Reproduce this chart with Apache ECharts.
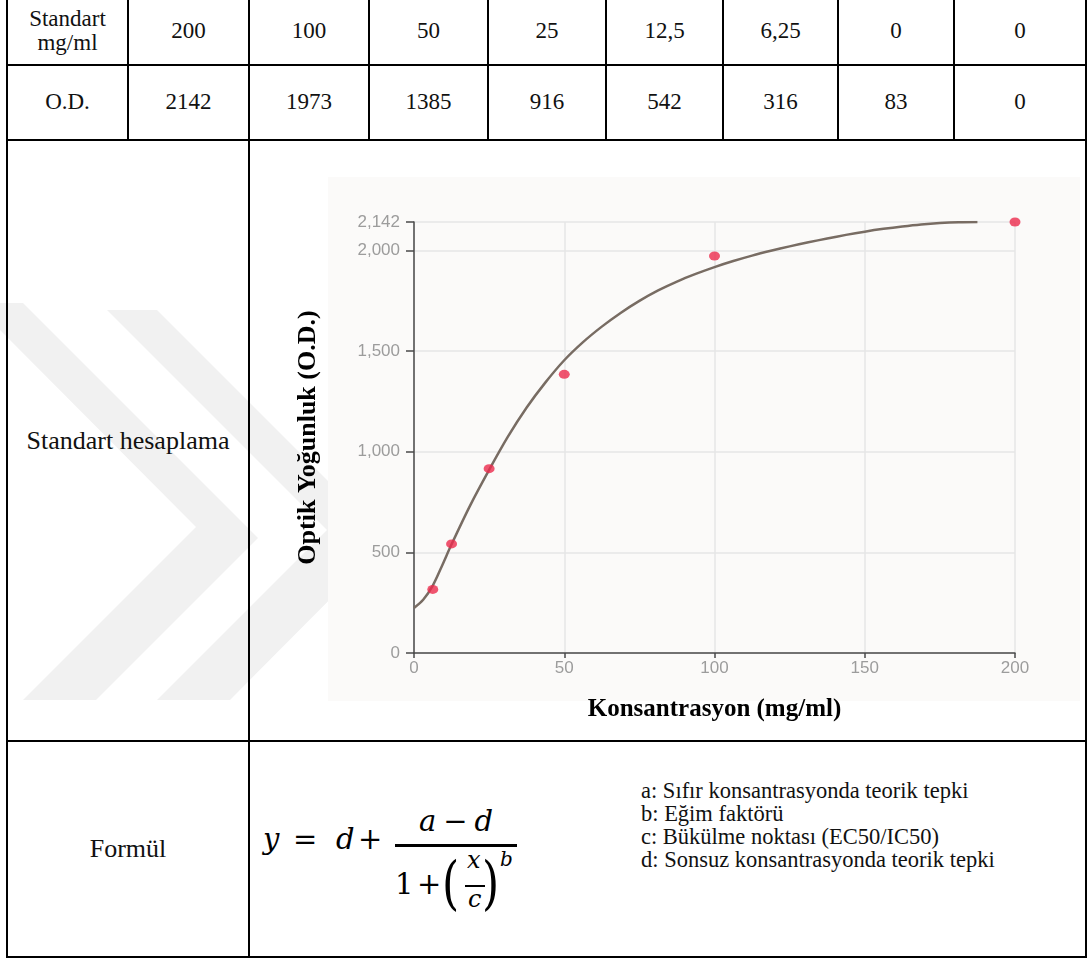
<!DOCTYPE html>
<html><head><meta charset="utf-8">
<script src="https://cdn.jsdelivr.net/npm/echarts@6/dist/echarts.min.js"></script>
<style>
html,body{margin:0;padding:0;background:#fff;width:1089px;height:959px;overflow:hidden;}
#page{position:relative;width:1089px;height:959px;font-family:"Liberation Serif","Times New Roman",serif;color:#111;}
.hl,.vl{position:absolute;background:#000;}
.cell{position:absolute;display:flex;align-items:center;justify-content:center;text-align:center;}
#wm{position:absolute;left:0;top:0;}
#plotbg{position:absolute;left:328px;top:177px;width:752px;height:524px;background:#fbfaf9;}
#chart{position:absolute;left:0;top:0;width:1089px;height:959px;}
.f{position:absolute;font-family:"DejaVu Serif","Liberation Serif",serif;font-style:italic;line-height:1;color:#000;white-space:nowrap;}
.fu{font-style:normal;}
</style></head>
<body><div id="page">
<svg id="wm" width="1089" height="959"><g fill="#f1f1f1">
<polygon points="0,303 23,303 258,538 96,700 23,700 196,527 0,330"/>
<polygon points="107,310 157,310 388,541 230,700 157,700 327,530"/>
</g></svg>
<div id="plotbg"></div>
<div id="chart"></div>
</div>
<script>
// ---- data ----
const concLabels = ['200', '100', '50', '25', '12,5', '6,25', '0', '0'];
const odValues = [2142, 1973, 1385, 916, 542, 316, 83, 0];
const pointConc = [200, 100, 50, 25, 12.5, 6.25];
const pointOD = [2142, 1973, 1385, 916, 542, 316];
// fitted curve, values
const curveConc = [0, 3.125, 6.25, 9.375, 12.5, 18.75, 25, 31.25, 37.5, 43.75, 50, 56.25, 62.5, 68.75, 75, 81.25, 87.5, 93.75, 100, 106.25, 112.5, 118.75, 125, 131.25, 137.5, 143.75, 150, 156.25, 162.5, 168.75, 175, 181.25, 187.5];
const curveOD = [224, 266, 335, 435, 540, 735, 910, 1075, 1220, 1345, 1455, 1545, 1622, 1690, 1750, 1802, 1846, 1884, 1918, 1948, 1975, 1999, 2021, 2041, 2060, 2078, 2094, 2108, 2120, 2130, 2137, 2141, 2142];
const yTicksMax = 2142;
const rowTitles = ['Standart<br>mg/ml', 'O.D.', 'Standart hesaplama', 'Formül'];
const xAxisTitle = 'Konsantrasyon (mg/ml)';
const yAxisTitle = 'Optik Yoğunluk (O.D.)';
const paramNotes = ['a: Sıfır konsantrasyonda teorik tepki', 'b: Eğim faktörü', 'c: Bükülme noktası (EC50/IC50)', 'd: Sonsuz konsantrasyonda teorik tepki'];

// ---- table layout ----
const page = document.getElementById('page');
function add(cls, st, html) {
  const d = document.createElement('div'); d.className = cls;
  Object.assign(d.style, st); if (html !== undefined) d.innerHTML = html;
  page.insertBefore(d, document.getElementById('chart')); return d;
}
const L = 7, R = 1086, lw = 2;
const colX = [7, 128, 249, 369, 488, 606, 723, 838, 954, 1086];
[65, 140, 741, 957].forEach(y => add('hl', {left: L + 'px', top: (y - 1) + 'px', width: (R - L + 1) + 'px', height: lw + 'px'}));
add('vl', {left: (L - 1) + 'px', top: '0px', width: lw + 'px', height: '958px'});
add('vl', {left: (R - 1) + 'px', top: '0px', width: lw + 'px', height: '958px'});
add('vl', {left: '248px', top: '0px', width: lw + 'px', height: '958px'});
colX.slice(1, -1).forEach(x => { if (x !== 249) add('vl', {left: (x - 1) + 'px', top: '0px', width: lw + 'px', height: '141px'}); });
function cell(x0, x1, y0, y1, html, fs, lh) {
  add('cell', {left: x0 + 'px', top: y0 + 'px', width: (x1 - x0) + 'px', height: (y1 - y0) + 'px', fontSize: fs + 'px', lineHeight: (lh || 1.15)}, html);
}
cell(7, 128, 0, 62, rowTitles[0], 23, '24px');
cell(7, 128, 65, 140, rowTitles[1], 23);
concLabels.forEach((t, i) => cell(colX[i + 1], colX[i + 2], 0, 63, t, 23));
odValues.forEach((v, i) => cell(colX[i + 1], colX[i + 2], 65, 140, String(v), 23));
cell(7, 249, 140, 741, rowTitles[2], 26);
cell(7, 249, 741, 957, rowTitles[3], 26);

// formula  y = d + (a - d) / (1 + (x/c)^b)
const FS = 29;
function ftext(txt, left, baseline, fs, upright, extra) {
  const st = Object.assign({left: left + 'px', top: (baseline - 0.846 * fs) + 'px', fontSize: fs + 'px'}, extra || {});
  return add('f' + (upright ? ' fu' : ''), st, txt);
}
ftext('y', 263, 850, FS);
ftext('=', 293, 850, FS, true);
ftext('d', 336, 850, FS);
ftext('+', 358, 850, FS, true);
ftext('a<span style="font-style:normal;margin:0 7px">−</span>d', 395, 832, FS, false, {width: '122px', textAlign: 'center'});
add('hl', {left: '395px', top: '844px', width: '122px', height: '2.5px'});
ftext('1', 395, 895, FS, true);
ftext('+', 417, 895, FS, true);
ftext('(', 442, 899, 44, true, {transform: 'scaleY(1.32)', transformOrigin: '50% 23px'});
ftext('x', 467, 868, 24);
add('hl', {left: '465px', top: '885px', width: '20px', height: '2px'});
ftext('c', 468, 907, 24);
ftext(')', 482, 899, 44, true, {transform: 'scaleY(1.32)', transformOrigin: '50% 23px'});
ftext('b', 500, 866, 20);
add('', {position: 'absolute', left: '641px', top: '779px', fontSize: '22.5px', lineHeight: '23px', whiteSpace: 'nowrap'}, paramNotes.join('<br>'));

// ---- chart ----
const chart = echarts.init(document.getElementById('chart'), null, {renderer: 'canvas'});
const fmt = v => String(v).replace(/\B(?=(\d{3})+(?!\d))/g, ',');
chart.setOption({
  backgroundColor: 'transparent',
  animation: false,
  grid: {left: 414, top: 222, width: 601, height: 431, containLabel: false},
  xAxis: {
    type: 'value', min: 0, max: 200, interval: 50,
    name: xAxisTitle, nameLocation: 'middle', nameGap: 44,
    nameTextStyle: {fontFamily: 'Liberation Serif', fontWeight: 'bold', fontSize: 25, color: '#000'},
    axisLine: {show: true, onZero: false, lineStyle: {color: '#4a4a4a', width: 1.5}},
    axisTick: {show: true, length: 5, lineStyle: {color: '#4a4a4a', width: 1.5}},
    axisLabel: {color: '#9c9c9c', fontFamily: 'Liberation Sans', fontSize: 17, margin: 7},
    splitLine: {show: true, lineStyle: {color: '#e6e6e6', width: 1.5}}
  },
  yAxis: {
    type: 'value', min: 0, max: yTicksMax, interval: 500,
    name: yAxisTitle, nameLocation: 'middle', nameGap: 93, nameRotate: 90,
    nameTextStyle: {fontFamily: 'Liberation Serif', fontWeight: 'bold', fontSize: 26, color: '#000'},
    axisLine: {show: true, lineStyle: {color: '#4a4a4a', width: 1.5}},
    axisTick: {show: true, length: 8, lineStyle: {color: '#4a4a4a', width: 1.5}},
    axisLabel: {color: '#9c9c9c', fontFamily: 'Liberation Sans', fontSize: 17, margin: 14, formatter: fmt},
    splitLine: {show: true, lineStyle: {color: '#e6e6e6', width: 1.5}}
  },
  series: [
    {type: 'line', data: curveConc.map((x, i) => [x, curveOD[i]]), smooth: 0.3, showSymbol: false,
     lineStyle: {color: '#786c63', width: 2.5}, z: 2},
    {type: 'scatter', data: pointConc.map((x, i) => [x, pointOD[i]]), symbol: 'circle', symbolSize: [11, 9],
     itemStyle: {color: '#ec2a4c'}, z: 3}
  ]
});
</script>
</body></html>
